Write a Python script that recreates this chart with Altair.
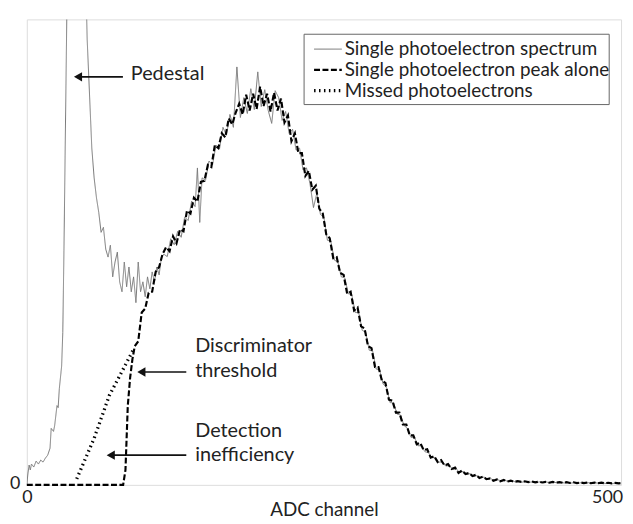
import altair as alt
import pandas as pd

S_SPEC = "Single photoelectron spectrum"
S_PEAK = "Single photoelectron peak alone"
S_MISS = "Missed photoelectrons"

# ---- Single photoelectron spectrum (thin grey) : ADC channel / counts ----
spec_ch = [0, 1, 2, 3, 4, 6, 8, 10, 12, 14, 16, 18, 20, 21, 23, 24, 26, 27, 28, 30, 31, 32,
           42, 48, 52, 56, 58, 60, 62, 64, 66, 68, 70, 72, 74, 76, 78, 80, 82, 84, 86, 88, 90,
           92, 94, 96, 98, 100, 102, 104, 106, 108, 110, 112, 114, 116, 118, 121, 124, 127,
           130, 133, 136, 139, 142, 145, 147, 149, 151, 154, 157, 160, 163, 166, 169, 172, 175,
           178, 181, 184, 187, 190, 193, 196, 199, 202, 205, 208, 211, 214, 217, 220, 223, 226,
           229, 232, 235, 238, 241, 244, 247, 250, 253, 256, 259, 262, 265, 268, 271, 274, 277,
           280, 283, 286, 289, 292, 295, 298, 301, 304, 307, 310, 313, 316, 319, 322, 325, 328,
           331, 334, 337, 340, 343, 346, 349, 352, 355, 358, 361, 364, 367, 370, 373, 376, 379,
           382, 385, 388, 391, 394, 397, 400, 403, 406, 409, 412, 415, 418, 421, 424, 427, 430,
           433, 436, 439, 442, 445, 448, 451, 454, 457, 460, 463, 466, 469, 472, 475, 478, 481,
           484, 487, 490, 493, 496, 499, 502, 505, 508, 511]
spec_ct = [0, 120, 200, 150, 210, 180, 240, 210, 250, 230, 270, 300, 370, 570, 540, 600, 800, 780, 970, 1200, 1540, 2370,
           12000, 6500, 4500, 3400, 3100, 2900, 2750, 2550, 2600, 2380, 2300, 2420, 2100, 2250, 2350, 2050, 1950, 2250, 2000, 2200, 1950,
           2100, 1840, 2250, 1950, 2050, 1900, 2100, 1980, 2150, 2050, 2200, 2120, 2300, 2330, 2305, 2485, 2425,
           2560, 2500, 2705, 2670, 2865, 2810, 3200, 2650, 3100, 3075, 3270, 3230, 3430, 3390, 3610, 3530, 3740,
           3610, 4220, 3710, 3910, 3750, 4000, 3790, 4170, 3820, 3990, 3780, 3650, 3980, 3910, 3680, 3770, 3550,
           3590, 3380, 3400, 3180, 3200, 3040, 2800, 2950, 2730, 2700, 2470, 2460, 2270, 2250, 2100, 2090, 1930,
           1920, 1740, 1740, 1560, 1540, 1360, 1350, 1170, 1160, 1020, 980, 830, 830, 715, 705, 600, 570,
           480, 480, 395, 395, 335, 325, 275, 275, 230, 230, 190, 195, 155, 160, 125, 135, 107,
           113, 87, 93, 74, 78, 59, 61, 43, 51, 38, 45, 33, 41, 30, 36, 28, 34,
           26, 32, 24, 30, 22, 28, 21, 27, 20, 26, 19, 25, 18, 24, 17, 23, 16,
           22, 15, 21, 15, 20, 14, 19, 14, 18, 14]

# ---- Single photoelectron peak alone (thick dashed black) ----
peak_ch = [0, 83, 85, 87, 89, 91, 93, 96, 99, 102, 105, 108, 111, 114, 117, 120, 123, 126, 129,
           132, 135, 138, 141, 144, 147, 150, 153, 156, 159, 162, 165, 168, 171, 174, 177, 180,
           183, 186, 189, 192, 195, 198, 201, 204, 207, 210, 213, 216, 219, 222, 225, 228, 231,
           234, 237, 240, 243, 246, 249, 252, 255, 258, 261, 264, 267, 270, 273, 276, 279, 282,
           285, 288, 291, 294, 297, 300, 303, 306, 309, 312, 315, 318, 321, 324, 327, 330, 333,
           336, 339, 342, 345, 348, 351, 354, 357, 360, 363, 366, 369, 372, 375, 378, 381, 384,
           387, 390, 393, 396, 399, 402, 405, 408, 411, 414, 417, 420, 423, 426, 429, 432, 435,
           438, 441, 444, 447, 450, 453, 456, 459, 462, 465, 468, 471, 474, 477, 480, 483, 486,
           489, 492, 495, 498, 501, 504, 507, 510, 512]
peak_ct = [0, 0, 150, 800, 1080, 1270, 1400, 1450, 1740, 1780, 1940, 1950, 2150, 2200, 2330, 2400, 2360, 2510, 2440,
           2580, 2560, 2770, 2740, 2900, 2860, 3060, 3070, 3230, 3210, 3430, 3400, 3550, 3510, 3700, 3640, 3760,
           3850, 3740, 3940, 3780, 3950, 3795, 4020, 3825, 3950, 3770, 3960, 3780, 3900, 3660, 3730, 3470, 3550,
           3350, 3350, 3120, 3170, 2980, 3020, 2790, 2740, 2530, 2490, 2290, 2300, 2140, 2120, 1930, 1950, 1760,
           1790, 1600, 1580, 1400, 1380, 1190, 1190, 1050, 1030, 860, 850, 730, 730, 610, 610, 500, 500,
           410, 425, 350, 360, 275, 290, 230, 250, 195, 210, 160, 175, 120, 145, 110, 120, 90,
           102, 70, 82, 57, 65, 42, 55, 36, 49, 33, 43, 30, 38, 30, 36, 28, 34,
           26, 32, 24, 30, 22, 30, 22, 28, 20, 27, 19, 26, 18, 25, 18, 24, 17,
           23, 16, 22, 16, 21, 15, 20, 15, 18]

# ---- Missed photoelectrons (dotted) ----
miss_ch = [43, 58, 71, 84, 92]
miss_ct = [60, 470, 900, 1190, 1370]

rows = []
for c, v in zip(spec_ch, spec_ct):
    rows.append({"ch": c, "ct": v, "series": S_SPEC})
for c, v in zip(peak_ch, peak_ct):
    rows.append({"ch": c, "ct": v, "series": S_PEAK})
for c, v in zip(miss_ch, miss_ct):
    rows.append({"ch": c, "ct": v, "series": S_MISS})
df = pd.DataFrame(rows)

# ---- annotations (in data units) ----
ann_text = ["Pedestal", "Discriminator", "threshold", "Detection", "inefficiency"]
ann_x = [89.6, 145.1, 145.1, 145.1, 145.1]
ann_y = [4090, 1340, 1090, 480, 240]
arrow_tail = [82.8, 137.4, 137.4]
arrow_head = [40.1, 94.7, 68.3]
arrow_y = [4120, 1140, 300]

# legend (drawn in data units inside the plot)
legend_names = [S_SPEC, S_PEAK, S_MISS]
legend_sym_x = [247.5] * 3
legend_sym_x2 = [271.4] * 3
legend_row_y = [4400, 4190, 3980]
legend_txt_x = [273.9] * 3
legend_txt_y = [4340, 4130, 3920]
box_x, box_x2, box_y, box_y2 = [238.9], [501.8], [4550], [3840]

ann_df = pd.DataFrame({"t": ann_text, "x": ann_x, "y": ann_y})
arr_df = pd.DataFrame({"x": arrow_tail, "x2": [h + 4 for h in arrow_head],
                       "hx": [h + 4 for h in arrow_head], "y": arrow_y})
box_df = pd.DataFrame({"x": box_x, "x2": box_x2, "y": box_y, "y2": box_y2})
leg_df = pd.DataFrame({"series": legend_names, "x": legend_sym_x, "x2": legend_sym_x2,
                       "y": legend_row_y, "tx": legend_txt_x, "ty": legend_txt_y})

FONT = "Lato"
domain = [S_SPEC, S_PEAK, S_MISS]

xs = alt.Scale(domain=[0, 512], nice=False, zero=False)
ys = alt.Scale(domain=[0, 4700], nice=False, zero=False)

color_enc = alt.Color("series:N", scale=alt.Scale(domain=domain, range=["#777777", "#000000", "#000000"]),
                      legend=None)
dash_enc = alt.StrokeDash("series:N", scale=alt.Scale(domain=domain, range=[[1, 0], [6, 2.5], [1.5, 3.5]]),
                          legend=None)
width_enc = alt.StrokeWidth("series:N", scale=alt.Scale(domain=domain, range=[1, 3.3, 1.8]), legend=None)

x_enc = alt.X("ch:Q", scale=xs,
              axis=alt.Axis(values=[0, 500], title="ADC channel", grid=False, ticks=False, domain=False,
                            labelFontSize=18, labelFont=FONT, labelPadding=4, labelColor="#222",
                            titleFontSize=19, titleFont=FONT, titleFontWeight="normal",
                            titleBaseline="alphabetic", titleY=31,
                            titleColor="#222", labelFlush=False))
y_enc = alt.Y("ct:Q", scale=ys,
              axis=alt.Axis(values=[0], title=None, grid=False, ticks=False, domain=False,
                            labelFontSize=18, labelFont=FONT, labelPadding=7, labelColor="#222",
                            labelOffset=-1))

base = alt.Chart(df)
layers = []
for s in domain:
    layers.append(base.transform_filter(alt.datum.series == s).mark_line(clip=(s == S_SPEC)).encode(
        x=x_enc, y=y_enc, color=color_enc, strokeDash=dash_enc, strokeWidth=width_enc, order="ch:Q"))

box = alt.Chart(box_df).mark_rect(fill="white", stroke="#666", strokeWidth=1).encode(
    x=alt.X("x:Q", scale=xs), x2="x2:Q", y=alt.Y("y:Q", scale=ys), y2="y2:Q")
leg_sym = alt.Chart(leg_df).mark_rule().encode(
    x=alt.X("x:Q", scale=xs), x2="x2:Q", y=alt.Y("y:Q", scale=ys),
    color=color_enc, strokeDash=dash_enc, strokeWidth=width_enc)
leg_txt = alt.Chart(leg_df).mark_text(align="left", baseline="alphabetic", font=FONT, fontSize=19,
                                      color="#222").encode(
    x=alt.X("tx:Q", scale=xs), y=alt.Y("ty:Q", scale=ys), text="series:N")

rule = alt.Chart(arr_df).mark_rule(color="#111", strokeWidth=1.6).encode(
    x=alt.X("x:Q", scale=xs), x2="x2:Q", y=alt.Y("y:Q", scale=ys))
head = alt.Chart(arr_df).mark_point(shape="triangle-left", filled=True, color="#111", size=90, opacity=1).encode(
    x=alt.X("hx:Q", scale=xs), y=alt.Y("y:Q", scale=ys))
txt = alt.Chart(ann_df).mark_text(align="left", baseline="alphabetic", font=FONT, fontSize=20, color="#222").encode(
    x=alt.X("x:Q", scale=xs), y=alt.Y("y:Q", scale=ys), text="t:N")

chart = alt.layer(*layers, box, leg_sym, leg_txt, rule, head, txt).properties(
    width=600, height=470,
    autosize=alt.AutoSizeParams(type="none"),
    padding={"left": 19, "top": 9, "right": 4, "bottom": 36},
).configure_view(stroke="#555", strokeWidth=1).configure(background="white")

chart.save("out.html", embed_options={"renderer": "svg", "actions": False})
